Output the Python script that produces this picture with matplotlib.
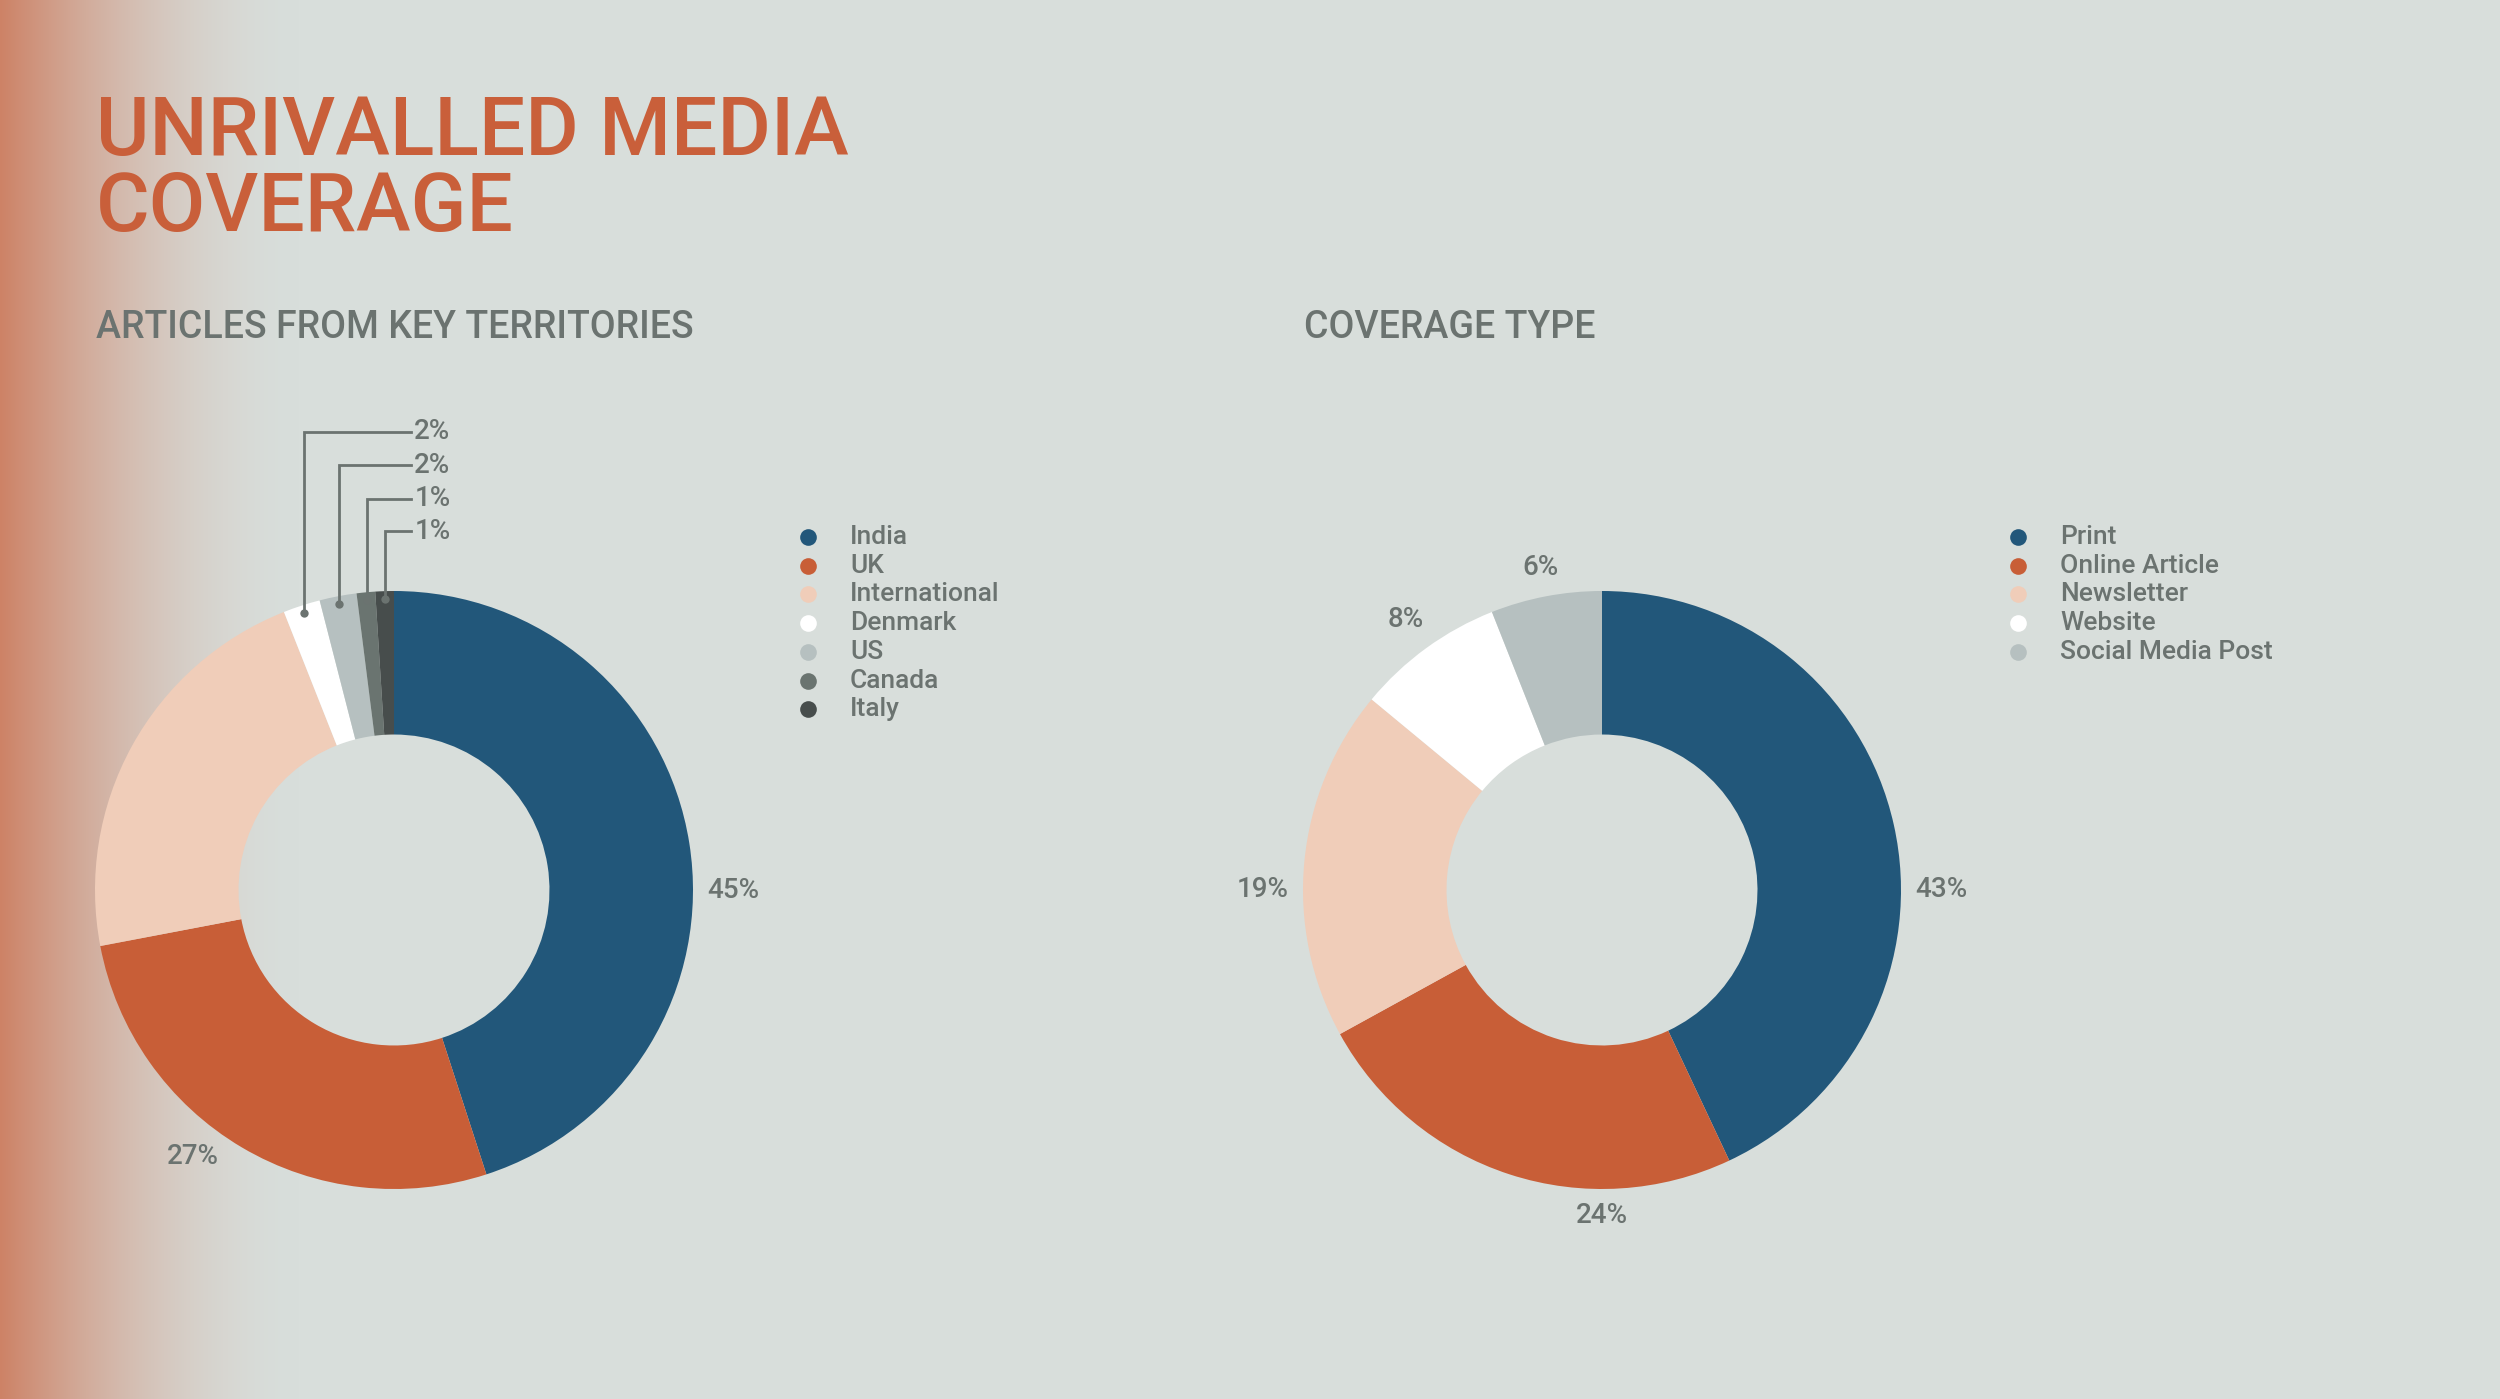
import numpy as np
import matplotlib
matplotlib.use("Agg")
import matplotlib.pyplot as plt
from matplotlib.colors import to_rgb

plt.rcParams['font.family'] = ['Roboto', 'DejaVu Sans']

# data
title_lines = ["UNRIVALLED MEDIA", "COVERAGE"]
left_title = "ARTICLES FROM KEY TERRITORIES"
right_title = "COVERAGE TYPE"

territories = ["India", "UK", "International", "Denmark", "US", "Canada", "Italy"]
territory_pct = [45, 27, 22, 2, 2, 1, 1]
territory_colors = ["#22577A", "#C85E37", "#F0CDB9", "#FFFFFF", "#B6C0C0", "#6A7470", "#474D4C"]

coverage_types = ["Print", "Online Article", "Newsletter", "Website", "Social Media Post"]
coverage_pct = [43, 24, 19, 8, 6]
coverage_colors = ["#22577A", "#C85E37", "#F0CDB9", "#FFFFFF", "#B6C0C0"]

BG = "#D8DEDB"
ORANGE = "#C95F3A"
GREY = "#6B7370"
W, H = 2500, 1399
R = 299  # outer radius in px

fig = plt.figure(figsize=(W / 100, H / 100), dpi=100)
fig.patch.set_facecolor(BG)

# background axes in pixel coords
bg = fig.add_axes([0, 0, 1, 1])
bg.axis("off")

# left gradient strip, eased so it melts into the background
gw = 300
s = np.linspace(0, 1, gw)
t = 1 - (1 - s) ** 1.8
c0 = np.array(to_rgb("#CD8266"))
c1 = np.array(to_rgb(BG))
grad = (c0[None, :] * (1 - t[:, None]) + c1[None, :] * t[:, None])[None, :, :]
bg.imshow(grad, extent=[0, gw, H, 0], aspect="auto", zorder=0)
bg.set_xlim(0, W)
bg.set_ylim(H, 0)

bg.text(96, 155, title_lines[0], color=ORANGE, fontsize=59, fontweight="medium",
        va="baseline", ha="left")
bg.text(96, 231, title_lines[1], color=ORANGE, fontsize=59, fontweight="medium",
        va="baseline", ha="left")
bg.text(96, 338, left_title, color=GREY, fontsize=27, fontweight="medium",
        va="baseline", ha="left")
bg.text(1304, 338, right_title, color=GREY, fontsize=27, fontweight="medium",
        va="baseline", ha="left")


def legend(x_dot, names, colors):
    y0, dy = 537, 28.7
    for i, (n, c) in enumerate(zip(names, colors)):
        y = y0 + i * dy
        bg.plot(x_dot, y, "o", ms=12, color=c, mec="none")
        bg.text(x_dot + 42, y, n, color=GREY, fontsize=19, fontweight="medium",
                va="center", ha="left")


legend(808, territories, territory_colors)
legend(2018, coverage_types, coverage_colors)

L = 1.7


def donut(cx, cy, values, colors, label_angles):
    size = 2 * L * R
    ax = fig.add_axes([(cx - size / 2) / W, 1 - (cy + size / 2) / H, size / W, size / H])
    wedges, _ = ax.pie(values, colors=colors, startangle=90, counterclock=False,
                       radius=1, wedgeprops=dict(width=0.48, edgecolor="none"))
    ax.set_xlim(-L, L)
    ax.set_ylim(-L, L)
    ax.axis("off")
    for i, (w, v) in enumerate(zip(wedges, values)):
        ang = label_angles[i]
        if ang == "skip":
            continue
        if ang is None:
            ang = (w.theta1 + w.theta2) / 2
        a = np.deg2rad(ang)
        r = 1.09 + 0.045 * abs(np.cos(a))
        ax.text(r * np.cos(a), r * np.sin(a), f"{v}%", color=GREY,
                fontsize=20, fontweight="medium", ha="center", va="center")
    return ax, wedges


axl, wl = donut(394, 890, territory_pct, territory_colors,
                [0, -127, "skip", "skip", "skip", "skip", "skip"])
# leader lines for the thin slices
levels = [1.532, 1.42, 1.308, 1.20]
for w, v, yl in zip(wl[3:], territory_pct[3:], levels):
    a = np.deg2rad((w.theta1 + w.theta2) / 2)
    x0, y0 = 0.975 * np.cos(a), 0.975 * np.sin(a)
    axl.plot([x0, x0, 0.057], [y0, yl, yl], color=GREY, lw=2.0, solid_joinstyle="miter")
    axl.plot(x0, y0, "o", ms=6, color=GREY, mec="none")
    axl.text(0.068, yl, f"{v}%", color=GREY, fontsize=20, fontweight="medium",
             ha="left", va="center")

donut(1602, 890, coverage_pct, coverage_colors, [0, -90, 180, None, None])

fig.savefig("out.png", dpi=100, facecolor=BG)
